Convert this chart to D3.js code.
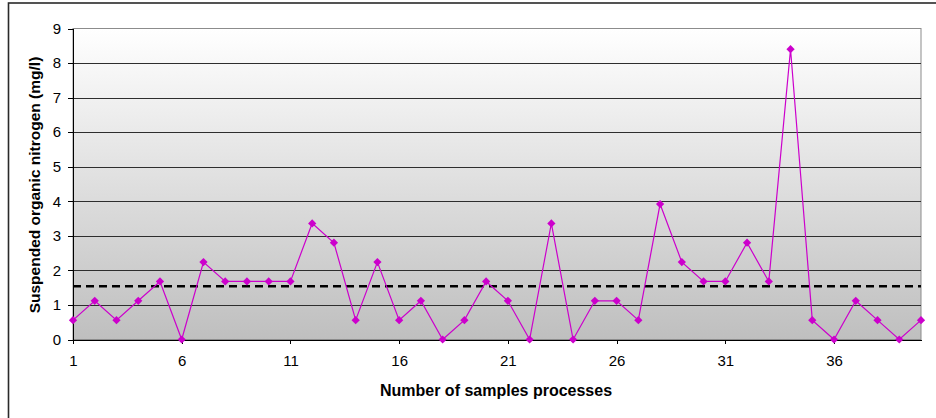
<!DOCTYPE html>
<html>
<head>
<meta charset="utf-8">
<script src="https://cdn.jsdelivr.net/npm/d3@7/dist/d3.min.js"></script>
<style>
  body { margin: 0; background: #fff; }
  svg text { font-family: Arial, "Liberation Sans", sans-serif; fill: #000; }
</style>
</head>
<body>
<svg id="chart" width="936" height="418"></svg>
<script>
// Sample numbers and suspended organic nitrogen readings (mg/l)
const samples = [1, 2, 3, 4, 5, 6, 7, 8, 9, 10, 11, 12, 13, 14, 15, 16, 17, 18, 19, 20,
                 21, 22, 23, 24, 25, 26, 27, 28, 29, 30, 31, 32, 33, 34, 35, 36, 37, 38, 39, 40];
const nitrogen = [0.56, 1.12, 0.56, 1.12, 1.68, 0, 2.24, 1.68, 1.68, 1.68,
                  1.68, 3.36, 2.8, 0.56, 2.24, 0.56, 1.12, 0, 0.56, 1.68,
                  1.12, 0, 3.36, 0, 1.12, 1.12, 0.56, 3.92, 2.24, 1.68,
                  1.68, 2.8, 1.68, 8.4, 0.56, 0, 1.12, 0.56, 0, 0.56];
// Reference level drawn as the dashed line
const referenceLevel = [1.54];
const xTickValues = [1, 6, 11, 16, 21, 26, 31, 36];
const yTickValues = [0, 1, 2, 3, 4, 5, 6, 7, 8, 9];

const svg = d3.select("#chart");
const plot = { left: 73, right: 921, top: 28.5, bottom: 339.5 };

const x = d3.scaleLinear().domain([1, 40]).range([plot.left, plot.right]);
const y = d3.scaleLinear().domain([0, 9]).range([plot.bottom, plot.top]);

// Outer chart frame
svg.append("rect")
  .attr("x", 8.5).attr("y", 3).attr("width", 960).attr("height", 440)
  .attr("fill", "#fff").attr("stroke", "#2a2a2a").attr("stroke-width", 1.6);

// Plot area background: white fading to grey
const defs = svg.append("defs");
const grad = defs.append("linearGradient").attr("id", "plotBg")
  .attr("x1", 0).attr("y1", 0).attr("x2", 0).attr("y2", 1);
grad.append("stop").attr("offset", 0).attr("stop-color", "#ffffff");
grad.append("stop").attr("offset", 1).attr("stop-color", "#bfbfbf");

svg.append("rect")
  .attr("x", plot.left).attr("y", plot.top)
  .attr("width", plot.right - plot.left).attr("height", plot.bottom - plot.top)
  .attr("fill", "url(#plotBg)")
  .attr("stroke", "#8c8c8c").attr("stroke-width", 1);

// Horizontal gridlines
svg.append("g")
  .selectAll("line")
  .data(yTickValues.filter(v => v > 0 && v < 9))
  .join("line")
  .attr("x1", plot.left).attr("x2", plot.right)
  .attr("y1", d => Math.round(y(d)) + 0.5).attr("y2", d => Math.round(y(d)) + 0.5)
  .attr("stroke", "#2e2e2e").attr("stroke-width", 1);

// Y axis
const yAxis = svg.append("g")
  .attr("transform", `translate(${plot.left},0)`)
  .call(d3.axisLeft(y).tickValues(yTickValues).tickSize(5).tickSizeOuter(0).tickPadding(7));
yAxis.selectAll("path, line").attr("stroke", "#000").attr("shape-rendering", "crispEdges");
yAxis.selectAll("text").attr("font-size", 15).attr("fill", "#000");

// X axis
const xAxis = svg.append("g")
  .attr("transform", `translate(0,${plot.bottom})`)
  .call(d3.axisBottom(x).tickValues(xTickValues).tickSize(4).tickSizeOuter(0).tickPadding(12));
xAxis.selectAll("path, line").attr("stroke", "#000").attr("shape-rendering", "crispEdges");
xAxis.selectAll("text").attr("font-size", 15).attr("fill", "#000");

// Dashed reference line
svg.append("g").selectAll("line")
  .data(referenceLevel)
  .join("line")
  .attr("x1", plot.left).attr("x2", plot.right)
  .attr("y1", d => y(d)).attr("y2", d => y(d))
  .attr("stroke", "#000").attr("stroke-width", 2.5)
  .attr("stroke-dasharray", "8,5");

// Series line
const series = samples.map((s, i) => ({ s, v: nitrogen[i] }));
svg.append("path")
  .datum(series)
  .attr("fill", "none")
  .attr("stroke", "#cc00cc")
  .attr("stroke-width", 1.2)
  .attr("d", d3.line().x(d => x(d.s)).y(d => y(d.v)));

// Diamond markers
const diamond = d3.symbol().type(d3.symbolSquare).size(34);
svg.append("g").selectAll("path")
  .data(series)
  .join("path")
  .attr("d", diamond)
  .attr("transform", d => `translate(${x(d.s)},${y(d.v)}) rotate(45)`)
  .attr("fill", "#cc00cc");

// Axis titles
svg.append("text")
  .attr("x", 496).attr("y", 396)
  .attr("text-anchor", "middle")
  .attr("font-size", 16).attr("font-weight", "bold")
  .text("Number of samples processes");

svg.append("text")
  .attr("transform", `translate(40,${(plot.top + plot.bottom) / 2 + 1}) rotate(-90)`)
  .attr("text-anchor", "middle")
  .attr("font-size", 15.5).attr("font-weight", "bold")
  .text("Suspended organic nitrogen (mg/l)");
</script>
</body>
</html>
